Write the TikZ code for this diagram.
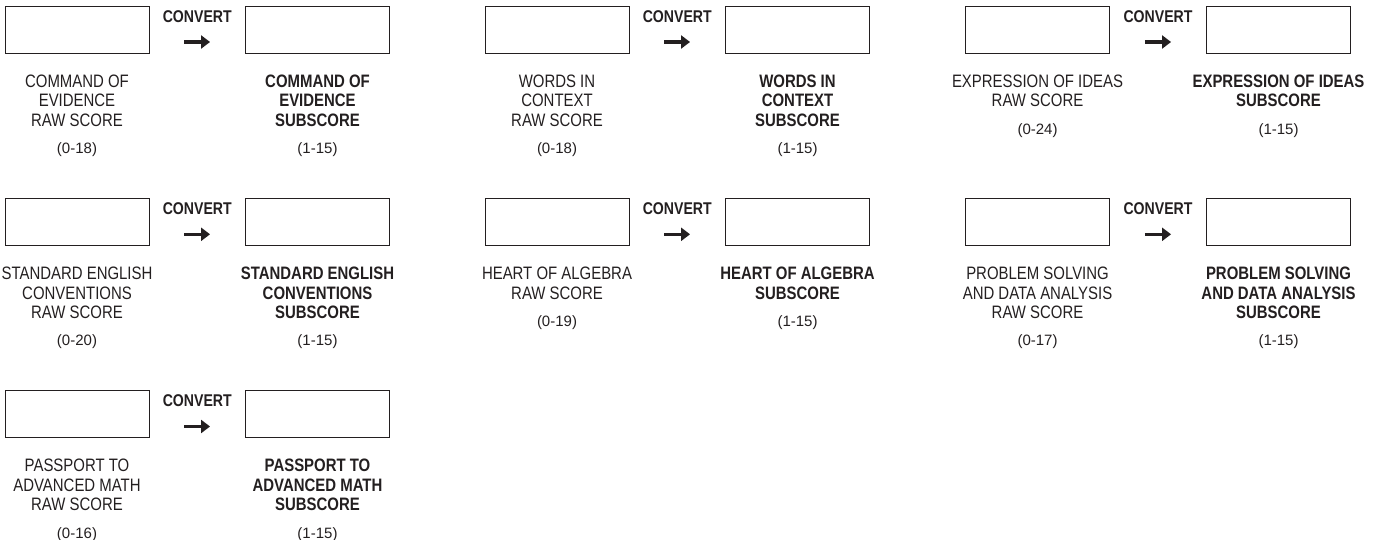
\documentclass[tikz,border=0pt]{standalone}
\usepackage{fontspec}
\setmainfont{Liberation Sans}[FakeStretch=0.83]
\newfontfamily\rangefamily{Liberation Sans}
\usepackage{xcolor}
\usetikzlibrary{arrows.meta}

\definecolor{ink}{HTML}{231F20}
\newcommand{\labelfont}{\fontsize{18pt}{19.5pt}\selectfont}
\newcommand{\rangefont}{\rangefamily\fontsize{15pt}{16pt}\selectfont}
\newcommand{\convfont}{\fontsize{17pt}{18pt}\selectfont\bfseries}

\begin{document}
\begin{tikzpicture}[x=1pt,y=1pt]
    \tikzset{
        every node/.style={text=ink},
        scorebox/.style={draw=ink, line width=0.9pt, minimum width=144pt, minimum height=47pt, inner sep=0pt},
        rawlabel/.style={anchor=north, align=center, inner sep=0pt, font=\labelfont},
        sublabel/.style={rawlabel, font=\labelfont\bfseries},
        rangelabel/.style={anchor=base, inner sep=0pt, font=\rangefont},
        convlabel/.style={inner sep=0pt, font=\convfont},
        convarrow/.style={draw=ink, line width=3.2pt, -{Triangle[length=9pt,width=13pt]}, shorten <=35pt, shorten >=35pt}
    }
    \useasboundingbox (0,0) rectangle (1380,-540);

    \node[scorebox] (coeraw) at (77,-29.5) {};
    \node[scorebox] (coesub) at (317.5,-29.5) {};
    \draw[convarrow] ([yshift=-12.5pt]coeraw.east) -- node[convlabel, above=18pt] (coeconv) {CONVERT} ([yshift=-12.5pt]coesub.west);
    \node[rawlabel] (coerawl) at ([yshift=-21pt]coeraw.south) {COMMAND OF\\EVIDENCE\\RAW SCORE};
    \node[sublabel] (coesubl) at ([yshift=-21pt]coesub.south) {COMMAND OF\\EVIDENCE\\SUBSCORE};
    \node[rangelabel] (coerawr) at ([yshift=-27pt]coerawl.south) {(0-18)};
    \node[rangelabel] (coesubr) at ([yshift=-27pt]coesubl.south) {(1-15)};

    \node[scorebox] (wicraw) at (557,-29.5) {};
    \node[scorebox] (wicsub) at (797.5,-29.5) {};
    \draw[convarrow] ([yshift=-12.5pt]wicraw.east) -- node[convlabel, above=18pt] (wicconv) {CONVERT} ([yshift=-12.5pt]wicsub.west);
    \node[rawlabel] (wicrawl) at ([yshift=-21pt]wicraw.south) {WORDS IN\\CONTEXT\\RAW SCORE};
    \node[sublabel] (wicsubl) at ([yshift=-21pt]wicsub.south) {WORDS IN\\CONTEXT\\SUBSCORE};
    \node[rangelabel] (wicrawr) at ([yshift=-27pt]wicrawl.south) {(0-18)};
    \node[rangelabel] (wicsubr) at ([yshift=-27pt]wicsubl.south) {(1-15)};

    \node[scorebox] (eoiraw) at (1037.5,-29.5) {};
    \node[scorebox] (eoisub) at (1278.5,-29.5) {};
    \draw[convarrow] ([yshift=-12.5pt]eoiraw.east) -- node[convlabel, above=18pt] (eoiconv) {CONVERT} ([yshift=-12.5pt]eoisub.west);
    \node[rawlabel] (eoirawl) at ([yshift=-21pt]eoiraw.south) {EXPRESSION OF IDEAS\\RAW SCORE};
    \node[sublabel] (eoisubl) at ([yshift=-21pt]eoisub.south) {EXPRESSION OF IDEAS\\SUBSCORE};
    \node[rangelabel] (eoirawr) at ([yshift=-27pt]eoirawl.south) {(0-24)};
    \node[rangelabel] (eoisubr) at ([yshift=-27pt]eoisubl.south) {(1-15)};

    \node[scorebox] (secraw) at (77,-221.8) {};
    \node[scorebox] (secsub) at (317.5,-221.8) {};
    \draw[convarrow] ([yshift=-12.5pt]secraw.east) -- node[convlabel, above=18pt] (secconv) {CONVERT} ([yshift=-12.5pt]secsub.west);
    \node[rawlabel] (secrawl) at ([yshift=-21pt]secraw.south) {STANDARD ENGLISH\\CONVENTIONS\\RAW SCORE};
    \node[sublabel] (secsubl) at ([yshift=-21pt]secsub.south) {STANDARD ENGLISH\\CONVENTIONS\\SUBSCORE};
    \node[rangelabel] (secrawr) at ([yshift=-27pt]secrawl.south) {(0-20)};
    \node[rangelabel] (secsubr) at ([yshift=-27pt]secsubl.south) {(1-15)};

    \node[scorebox] (hoaraw) at (557,-221.8) {};
    \node[scorebox] (hoasub) at (797.5,-221.8) {};
    \draw[convarrow] ([yshift=-12.5pt]hoaraw.east) -- node[convlabel, above=18pt] (hoaconv) {CONVERT} ([yshift=-12.5pt]hoasub.west);
    \node[rawlabel] (hoarawl) at ([yshift=-21pt]hoaraw.south) {HEART OF ALGEBRA\\RAW SCORE};
    \node[sublabel] (hoasubl) at ([yshift=-21pt]hoasub.south) {HEART OF ALGEBRA\\SUBSCORE};
    \node[rangelabel] (hoarawr) at ([yshift=-27pt]hoarawl.south) {(0-19)};
    \node[rangelabel] (hoasubr) at ([yshift=-27pt]hoasubl.south) {(1-15)};

    \node[scorebox] (psdraw) at (1037.5,-221.8) {};
    \node[scorebox] (psdsub) at (1278.5,-221.8) {};
    \draw[convarrow] ([yshift=-12.5pt]psdraw.east) -- node[convlabel, above=18pt] (psdconv) {CONVERT} ([yshift=-12.5pt]psdsub.west);
    \node[rawlabel] (psdrawl) at ([yshift=-21pt]psdraw.south) {PROBLEM SOLVING\\AND DATA ANALYSIS\\RAW SCORE};
    \node[sublabel] (psdsubl) at ([yshift=-21pt]psdsub.south) {PROBLEM SOLVING\\AND DATA ANALYSIS\\SUBSCORE};
    \node[rangelabel] (psdrawr) at ([yshift=-27pt]psdrawl.south) {(0-17)};
    \node[rangelabel] (psdsubr) at ([yshift=-27pt]psdsubl.south) {(1-15)};

    \node[scorebox] (pamraw) at (77,-414) {};
    \node[scorebox] (pamsub) at (317.5,-414) {};
    \draw[convarrow] ([yshift=-12.5pt]pamraw.east) -- node[convlabel, above=18pt] (pamconv) {CONVERT} ([yshift=-12.5pt]pamsub.west);
    \node[rawlabel] (pamrawl) at ([yshift=-21pt]pamraw.south) {PASSPORT TO\\ADVANCED MATH\\RAW SCORE};
    \node[sublabel] (pamsubl) at ([yshift=-21pt]pamsub.south) {PASSPORT TO\\ADVANCED MATH\\SUBSCORE};
    \node[rangelabel] (pamrawr) at ([yshift=-27pt]pamrawl.south) {(0-16)};
    \node[rangelabel] (pamsubr) at ([yshift=-27pt]pamsubl.south) {(1-15)};
\end{tikzpicture}
\end{document}
